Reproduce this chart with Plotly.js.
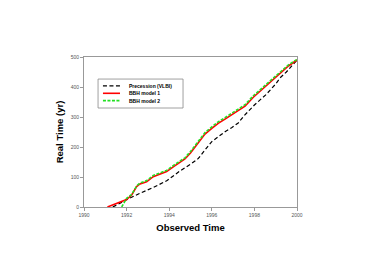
<!DOCTYPE html>
<html><head><meta charset="utf-8">
<script src="https://cdn.plot.ly/plotly-3.0.1.min.js"></script>
<style>body{margin:0;background:#fff}#c{width:374px;height:264px}</style>
</head><body><div id="c"></div>
<script>
const precX = [1991.35, 1991.77, 1992.0, 1992.6, 1993.25, 1993.9, 1994.5, 1995.05, 1995.37, 1995.68, 1996.0, 1996.3, 1996.62, 1996.93, 1997.24, 1997.5, 1998.0, 1998.55, 1999.0, 1999.2, 1999.5, 2000];
const precY = [0, 14, 24, 45, 65, 88, 120, 145, 162, 190, 218, 234, 251, 264, 280, 303, 340, 375, 410, 430, 450, 490];
const bbh1X = [1991.1, 1991.69, 1992.0, 1992.24, 1992.47, 1992.63, 1992.94, 1993.25, 1993.57, 1993.88, 1994.19, 1994.5, 1994.74, 1995.0, 1995.37, 1995.68, 1996.0, 1996.3, 1996.62, 1996.93, 1997.24, 1997.56, 1997.95, 1998.58, 1999.2, 1999.6, 2000];
const bbh1Y = [0, 18, 25, 40, 68, 77, 84, 101, 110, 118, 134, 148, 160, 180, 215, 243, 262, 279, 293, 307, 323, 336, 366, 405, 446, 470, 490];
const bbh2X = [1991.77, 1992.0, 1992.24, 1992.47, 1992.63, 1992.94, 1993.25, 1993.57, 1993.88, 1994.19, 1994.5, 1994.74, 1995.0, 1995.37, 1995.68, 1996.0, 1996.3, 1996.62, 1996.93, 1997.24, 1997.56, 1997.95, 1998.58, 1999.2, 1999.6, 2000];
const bbh2Y = [0, 29, 42, 70, 80, 88, 105, 114, 122, 138, 152, 164, 185, 220, 248, 267, 284, 298, 312, 328, 341, 371, 410, 450, 474, 492];
const names = ["Precession (VLBI)", "BBH model 1", "BBH model 2"];
const xTicks = [1990, 1992, 1994, 1996, 1998, 2000];
const yTicks = [0, 100, 200, 300, 400, 500];

const styles = [
  {color: "#000", width: 1.2, dash: "4px,2.5px"},
  {color: "#ff0000", width: 1.6},
  {color: "#22e022", width: 1.6, dash: "3px,1.5px"}
];
const traces = [
  {x: precX, y: precY, name: names[0], mode: "lines", line: styles[0]},
  {x: bbh1X, y: bbh1Y, name: names[1], mode: "lines", line: styles[1]},
  {x: bbh2X, y: bbh2Y, name: names[2], mode: "lines", line: styles[2]}
];
const font = "Liberation Sans, Arial, sans-serif";
const tf = {family: font, size: 5, color: "#555"};

const legY = [0.807, 0.758, 0.709];
const shapes = [{type: "rect", xref: "paper", yref: "paper", x0: 0.066, x1: 0.465, y0: 0.66, y1: 0.853,
  line: {color: "#888", width: 0.8}, fillcolor: "#fff", layer: "above"}];
const annotations = [];
names.forEach((n, i) => {
  shapes.push({type: "line", xref: "paper", yref: "paper", x0: 0.089, x1: 0.169, y0: legY[i], y1: legY[i],
    line: styles[i], layer: "above"});
  annotations.push({xref: "paper", yref: "paper", x: 0.203, y: legY[i], xanchor: "left", yanchor: "middle",
    text: "<b>" + n + "</b>", showarrow: false, font: {family: font, size: 5, color: "#000"}});
});

const axBase = {showgrid: false, zeroline: false, showline: true, mirror: true, linecolor: "#999", linewidth: 1,
  ticks: "outside", ticklen: 3, tickcolor: "#999", tickfont: tf};
const layout = {
  width: 374, height: 264,
  margin: {l: 84, r: 77, t: 57, b: 57},
  paper_bgcolor: "#fff", plot_bgcolor: "#fff",
  showlegend: false,
  shapes: shapes, annotations: annotations,
  xaxis: Object.assign({}, axBase, {range: [1990, 2000], tickvals: xTicks,
    title: {text: "<b>Observed Time</b>", font: {family: font, size: 9.5, color: "#000"}, standoff: 7}}),
  yaxis: Object.assign({}, axBase, {range: [0, 500], tickvals: yTicks,
    title: {text: "<b>Real Time (yr)</b>", font: {family: font, size: 9.5, color: "#000"}, standoff: 5}})
};
Plotly.newPlot("c", traces, layout, {displayModeBar: false, staticPlot: true});
</script></body></html>
